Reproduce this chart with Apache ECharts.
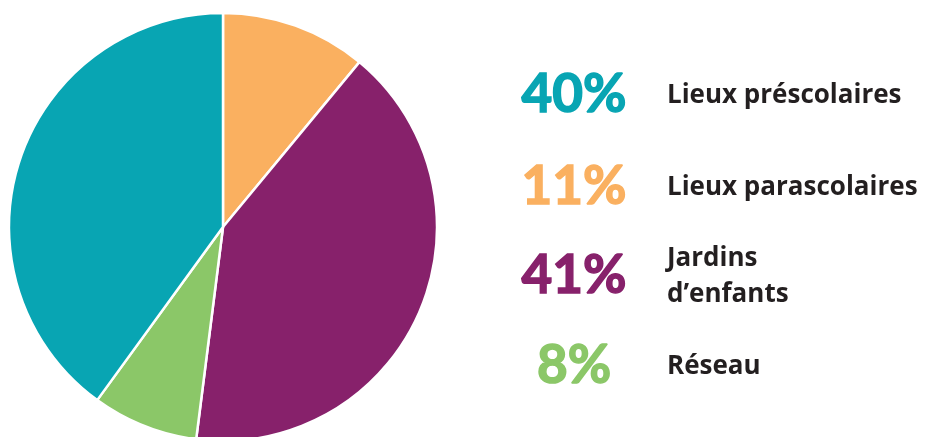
<!DOCTYPE html>
<html>
<head>
<meta charset="utf-8">
<script src="https://cdn.jsdelivr.net/npm/echarts@6/dist/echarts.min.js"></script>
<style>
html,body{margin:0;padding:0;background:#fff;}
#chart{width:928px;height:437px;}
</style>
</head>
<body>
<div id="chart"></div>
<script>
// Data (pie order: clockwise from 12 o'clock)
const categories = ['Lieux parascolaires', 'Jardins\nd\u2019enfants', 'Réseau', 'Lieux préscolaires'];
const values = [11, 41, 8, 40];
const colors = ['#FAB060', '#87216B', '#8BC768', '#08A5B3'];
// Legend order (top to bottom), indices into categories
const legendOrder = [3, 0, 1, 2];
const legendRowY = [95, 187, 276, 366];

const chart = echarts.init(document.getElementById('chart'), null, {renderer: 'canvas'});

const graphics = [];
legendOrder.forEach((idx, row) => {
  graphics.push({
    type: 'text',
    style: {
      text: values[idx] + '%',
      x: 574, y: legendRowY[row],
      fill: colors[idx],
      stroke: colors[idx],
      lineWidth: 1.5,
      font: 'bold 53px Lato, "Noto Sans", sans-serif',
      align: 'center', verticalAlign: 'middle'
    }
  });
  graphics.push({
    type: 'text',
    style: {
      text: categories[idx],
      x: 667, y: legendRowY[row] + 1,
      fill: '#231F20',
      font: 'bold 26px "Open Sans", "Noto Sans", sans-serif',
      lineHeight: 36,
      align: 'left', verticalAlign: 'middle'
    }
  });
});

chart.setOption({
  animation: false,
  backgroundColor: '#ffffff',
  series: [{
    type: 'pie',
    center: [223, 227],
    radius: [0, 214],
    startAngle: 90,
    clockwise: true,
    label: {show: false},
    labelLine: {show: false},
    emphasis: {disabled: true},
    itemStyle: {borderColor: '#ffffff', borderWidth: 2.5},
    data: categories.map((c, i) => ({name: c, value: values[i], itemStyle: {color: colors[i]}}))
  }],
  graphic: graphics
});
</script>
</body>
</html>
